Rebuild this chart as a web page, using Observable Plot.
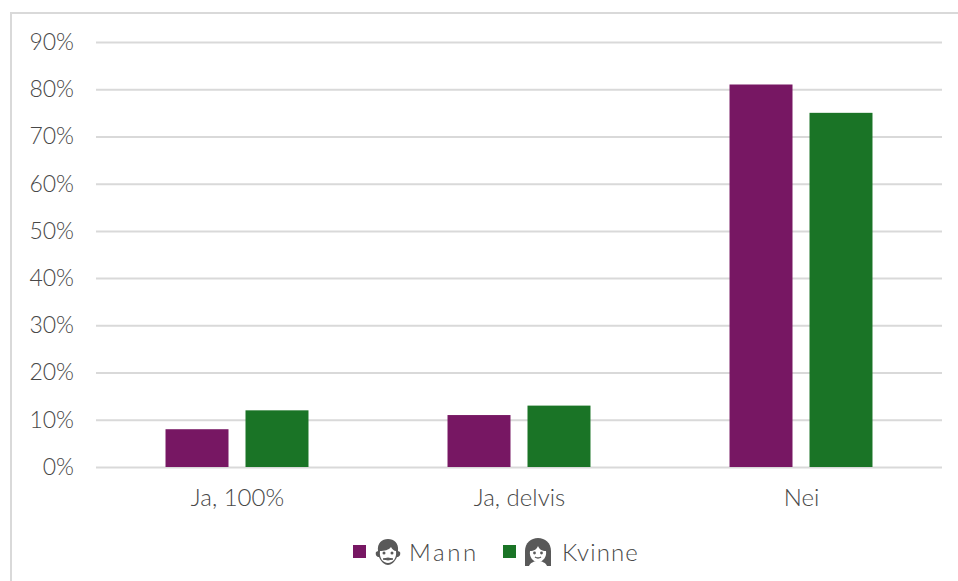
<!DOCTYPE html>
<html lang="no">
<head>
<meta charset="utf-8">
<script src="https://cdn.jsdelivr.net/npm/d3@7"></script>
<script src="https://cdn.jsdelivr.net/npm/@observablehq/plot@0.6"></script>
<style>
  html, body { margin: 0; background: #fff; }
  #chart { position: relative; width: 958px; height: 581px; overflow: hidden; font-family: "Lato", sans-serif; font-weight: 300; color: #484848; }
  #chart svg.plot { position: absolute; left: 0; top: 0; }
  .frame-top { position: absolute; left: 10px; right: 0; top: 12px; height: 2px; background: #d9d9d9; }
  .frame-left { position: absolute; left: 10px; top: 12px; bottom: 0; width: 2px; background: #d9d9d9; }
  .legend { position: absolute; top: 534px; left: 0; width: 958px; height: 36px; font-size: 24px; }
  .legend > * { position: absolute; }
  .swatch { width: 13px; height: 13px; top: 11px; }
  .icon { top: 4px; width: 28px; height: 28px; }
  .name { top: 3px; line-height: 30px; }
</style>
</head>
<body>
<div id="chart">
  <div class="frame-top"></div>
  <div class="frame-left"></div>
  <div class="legend" id="legend"></div>
</div>
<script>
const categories = ["Ja, 100%", "Ja, delvis", "Nei"];
const seriesNames = ["Mann", "Kvinne"];
const mannValues = [8, 11, 81];
const kvinneValues = [12, 13, 75];
const seriesColors = ["#771763", "#1a7426"];
const yTicks = [0, 10, 20, 30, 40, 50, 60, 70, 80, 90];

const rows = categories.flatMap((category, i) => [
  {category, series: seriesNames[0], value: mannValues[i]},
  {category, series: seriesNames[1], value: kvinneValues[i]}
]);

const plot = Plot.plot({
  width: 958,
  height: 530,
  marginLeft: 96,
  marginRight: 16,
  marginTop: 42,
  marginBottom: 63,
  style: {background: "transparent", fontFamily: "Lato, sans-serif", fontWeight: 300},
  fx: {domain: categories, padding: 0, label: null, round: false},
  x: {domain: seriesNames, paddingInner: 0.2125, paddingOuter: 0.869, axis: null, round: false},
  y: {domain: [0, 90], range: [467, 42], label: null},
  color: {domain: seriesNames, range: seriesColors},
  marks: [
    Plot.ruleY(yTicks, {stroke: "#d9d9d9", strokeWidth: 2, strokeOpacity: 1}),
    Plot.barY(rows, {fx: "category", x: "series", y: "value", fill: "series"}),
    Plot.axisY({
      ticks: yTicks,
      tickSize: 0,
      tickPadding: 22.5,
      tickFormat: d => `${d}%`,
      fontSize: 23,
      fill: "#484848",
      label: null
    }),
    Plot.axisFx({
      anchor: "bottom",
      tickSize: 0,
      tickPadding: 21,
      fontSize: 24,
      fill: "#484848",
      style: {letterSpacing: "1.8px"},
      label: null
    })
  ]
});
document.getElementById("chart").prepend(plot);

// Legend row: swatch, face pictogram and series name
const manIcon = `<svg viewBox="0 0 28 28" width="28" height="28">
  <path d="M4 13C3 5 8 1 14 1s11 4 10 12l2 1c1 3-1 5-3 5-2 5-6 8-9 8s-7-3-9-8c-2 0-4-2-3-5z" fill="#595959"/>
  <path d="M6 13c4 0 9-1 11-4 1 2 3 4 5 4 1 7-3 12-8 12S5 20 6 13z" fill="#fff"/>
  <circle cx="10" cy="15" r="1.5" fill="#595959"/><circle cx="18" cy="15" r="1.5" fill="#595959"/>
  <path d="M9 21q5-2 10 0q-5 2-10 0z" fill="#595959" stroke="#595959"/>
</svg>`;
const womanIcon = `<svg viewBox="0 0 28 28" width="28" height="28">
  <path d="M1 28V13C1 5 7 0 14 0s13 5 13 13v15z" fill="#595959"/>
  <path d="M6 13c4 0 7-2 8-5 1 3 4 5 8 5 1 6-3 11-8 11S5 19 6 13z" fill="#fff"/>
  <path d="M5 28c1-3 5-5 9-5s8 2 9 5z" fill="#fff"/>
  <circle cx="10.500" cy="15" r="1.4" fill="#595959"/><circle cx="17.500" cy="15" r="1.4" fill="#595959"/>
  <path d="M11 19q3 2 6 0" stroke="#595959" stroke-width="1.4" fill="none"/>
</svg>`;
const legend = document.getElementById("legend");
const swatchLeft = [353, 503], iconLeft = [374, 524], nameLeft = [409, 562], nameSpacing = [2.6, 1.1], icons = [manIcon, womanIcon];
seriesNames.forEach((name, i) => {
  legend.insertAdjacentHTML("beforeend",
    `<div class="swatch" style="left:${swatchLeft[i]}px;background:${seriesColors[i]}"></div>` +
    `<div class="icon" style="left:${iconLeft[i]}px">${icons[i]}</div>` +
    `<div class="name" style="left:${nameLeft[i]}px;letter-spacing:${nameSpacing[i]}px">${name}</div>`);
});
</script>
</body>
</html>
